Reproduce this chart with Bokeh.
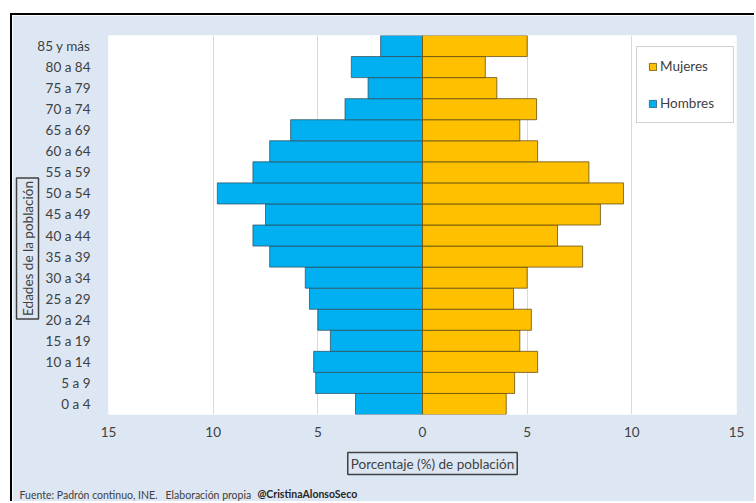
from math import pi

from bokeh.plotting import figure
from bokeh.models import (FactorRange, FixedTicker, Label, Legend, LegendItem,
                          ColumnDataSource)
from bokeh.embed import file_html
from bokeh.resources import INLINE

# Age groups, from youngest (bottom) to oldest (top)
ages = ["0 a 4", "5 a 9", "10 a 14", "15 a 19", "20 a 24", "25 a 29",
        "30 a 34", "35 a 39", "40 a 44", "45 a 49", "50 a 54", "55 a 59",
        "60 a 64", "65 a 69", "70 a 74", "75 a 79", "80 a 84", "85 y más"]

# Share of the population (%) in each age group
hombres = [3.2, 5.1, 5.2, 4.4, 5.0, 5.4, 5.6, 7.3, 8.1, 7.5,
           9.8, 8.1, 7.3, 6.3, 3.7, 2.6, 3.4, 2.0]
mujeres = [4.0, 4.4, 5.5, 4.65, 5.2, 4.35, 5.0, 7.65, 6.45, 8.5,
           9.6, 7.95, 5.5, 4.65, 5.45, 3.55, 3.0, 5.0]

x_ticks = [-15, -10, -5, 0, 5, 10, 15]
x_tick_labels = ["15", "10", "5", "0", "5", "10", "15"]

FONT = "Lato"
BLUE_BG = "#DDE7F3"
NBSP = "\u00a0"

src = ColumnDataSource(dict(
    age=ages,
    h_left=[-v for v in hombres],
    m_right=mujeres,
))

p = figure(
    width=744, height=488,
    x_range=(-15, 15),
    y_range=FactorRange(factors=ages),
    output_backend="svg",
    toolbar_location=None,
    min_border_left=95, min_border_right=20,
    min_border_top=20, min_border_bottom=89,
    border_fill_color=BLUE_BG,
    background_fill_color="white",
    outline_line_color=None,
    margin=(13, 0, 0, 10),
    styles={"border-top": "2px solid black", "border-left": "2px solid black"},
)

# Men to the left of zero, women to the right
rh = p.hbar(y="age", left="h_left", right=0, height=1.0, source=src,
            fill_color="#00B0F0", line_color="#2f4f5f", line_alpha=0.75,
            line_width=1)
rm = p.hbar(y="age", left=0, right="m_right", height=1.0, source=src,
            fill_color="#FFC000", line_color="#5f4a10", line_alpha=0.75,
            line_width=1)

# Axes
p.xaxis.ticker = FixedTicker(ticks=x_ticks)
p.xaxis.major_label_overrides = {t: l for t, l in zip(x_ticks, x_tick_labels)}
p.xaxis.axis_line_color = None
p.xaxis.major_tick_line_color = None
p.xaxis.minor_tick_line_color = None
p.xaxis.major_tick_out = 0
p.xaxis.major_label_standoff = 12
p.xaxis.major_label_text_font = FONT
p.xaxis.major_label_text_font_size = "13.5px"
p.xaxis.major_label_text_color = "#404040"

p.yaxis.axis_line_color = None
p.yaxis.major_tick_line_color = None
p.yaxis.minor_tick_line_color = None
p.yaxis.major_tick_out = 0
p.yaxis.major_label_standoff = 18
p.yaxis.major_label_text_font = FONT
p.yaxis.major_label_text_font_size = "13.5px"
p.yaxis.major_label_text_color = "#404040"

p.xgrid.ticker = FixedTicker(ticks=x_ticks)
p.xgrid.grid_line_color = "#D9D9D9"
p.ygrid.grid_line_color = None

# Legend in the upper right of the plot area
legend = Legend(
    items=[LegendItem(label="Mujeres", renderers=[rm]),
           LegendItem(label="Hombres", renderers=[rh])],
    location=(528, 291),
    orientation="vertical",
    glyph_width=9, glyph_height=9,
    label_standoff=3,
    label_height=16, label_width=62,
    spacing=21, padding=11, margin=0,
    label_text_font=FONT, label_text_font_size="13.5px",
    label_text_color="#404040",
    border_line_color="#A6A6A6", border_line_width=1,
    background_fill_color="white", background_fill_alpha=1.0,
)
p.add_layout(legend, "center")

# Axis titles drawn as boxed labels in the side panels
p.add_layout(Label(
    x=324, y=-2, x_units="screen", y_units="screen",
    text="Porcentaje (%) de población",
    text_font=FONT, text_font_size="13.5px", text_color="#404040",
    text_align="center", text_baseline="middle",
    border_line_color="#404040", border_line_width=1.5,
    padding=3,
), "below")
p.add_layout(Label(
    x=15, y=166, x_units="screen", y_units="screen",
    text="Edades de la población", angle=pi / 2,
    text_font=FONT, text_font_size="13.5px", text_color="#404040",
    text_align="center", text_baseline="middle",
    border_line_color="#404040", border_line_width=1.5,
    padding=3,
), "left")

# Source note
p.add_layout(Label(
    x=-89, y=-21.5, x_units="screen", y_units="screen",
    text="Fuente: Padrón continuo, INE." + NBSP * 3 + "Elaboración propia",
    text_font=FONT, text_font_size="10.5px", text_color="#404040",
    text_baseline="middle",
), "below")
p.add_layout(Label(
    x=149, y=-8.5, x_units="screen", y_units="screen",
    text="@CristinaAlonsoSeco",
    text_font=FONT, text_font_size="10.5px", text_font_style="bold",
    text_color="#262626", text_baseline="middle",
), "below")

open("out.html", "w").write(file_html(p, INLINE))
